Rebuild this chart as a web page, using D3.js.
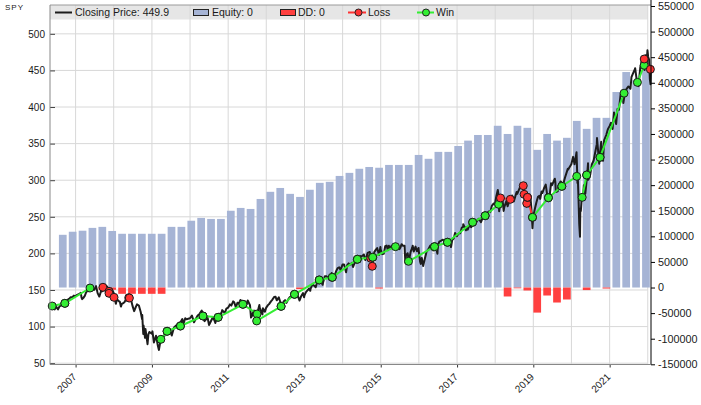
<!DOCTYPE html>
<html><head><meta charset="utf-8">
<script src="https://cdn.jsdelivr.net/npm/d3@7"></script>
<style>
body{margin:0;background:#fff;}
svg text{font-family:"Liberation Sans",Arial,sans-serif;fill:#1a1a1a;}
</style>
</head><body>
<svg id="chart" width="701" height="405"></svg>
<script>
// ---------- DATA ----------
const closeSeries = [
["2006-05-15",129],["2006-05-31",127.5],["2006-06-14",123.5],["2006-06-30",126.9],["2006-07-17",123.5],["2006-07-31",127.6],["2006-08-15",129.3],["2006-08-31",131],["2006-09-15",132.3],["2006-09-29",133.6],["2006-10-16",136.5],["2006-10-31",137.9],["2006-11-15",140],["2006-11-30",140.2],["2006-12-15",142.3],["2006-12-29",141.6],
["2007-01-16",143.2],["2007-01-31",144.2],["2007-02-20",146],["2007-02-27",139.5],["2007-03-05",137.5],["2007-03-15",138.9],["2007-03-30",141.9],["2007-04-16",148.3],["2007-04-30",148.3],["2007-05-15",150.6],["2007-05-31",153.3],["2007-06-12",150.3],["2007-06-29",150.4],["2007-07-16",155.3],["2007-07-31",145.7],["2007-08-16",141],["2007-08-31",147.6],["2007-09-17",148.4],["2007-09-28",152.6],["2007-10-09",156.5],["2007-10-31",154.6],["2007-11-15",145.4],["2007-11-26",141.2],["2007-11-30",148.7],["2007-12-10",151.8],["2007-12-31",146.2],
["2008-01-08",140],["2008-01-22",131.1],["2008-01-31",137.4],["2008-02-15",135.4],["2008-02-29",133.8],["2008-03-10",127.3],["2008-03-20",131.4],["2008-03-31",131.9],["2008-04-15",133.7],["2008-04-30",138.3],["2008-05-19",142.7],["2008-05-30",140.4],["2008-06-16",136],["2008-06-30",127.9],["2008-07-15",121.1],["2008-07-31",126.8],["2008-08-11",130.4],["2008-08-29",128.8],["2008-09-15",120.3],["2008-09-29",110.1],["2008-09-30",116],["2008-10-10",89.9],["2008-10-13",101.4],["2008-10-27",84.7],["2008-10-31",96.8],["2008-11-20",75.9],["2008-11-28",89.2],["2008-12-08",92.7],["2008-12-31",90.2],
["2009-01-06",93.5],["2009-01-20",78.4],["2009-01-30",82.8],["2009-02-09",87.6],["2009-02-27",73.9],["2009-03-09",68.1],["2009-03-26",82.3],["2009-03-31",79.5],["2009-04-15",86.5],["2009-04-30",87.1],["2009-05-08",93],["2009-05-29",92.5],["2009-06-12",94.6],["2009-06-30",91.9],["2009-07-10",87.9],["2009-07-31",98.8],["2009-08-14",100.6],["2009-08-31",102.5],["2009-09-15",105.2],["2009-09-30",105.6],["2009-10-19",110.3],["2009-10-30",103.6],["2009-11-16",111.3],["2009-11-30",109.9],["2009-12-15",110.8],["2009-12-31",111.4],
["2010-01-19",115.1],["2010-02-08",105.8],["2010-02-26",110.7],["2010-03-15",115],["2010-03-31",117],["2010-04-23",121.8],["2010-04-30",118.8],["2010-05-07",111.3],["2010-05-20",107.5],["2010-05-31",109.4],["2010-06-18",112.2],["2010-07-02",102.2],["2010-07-30",110.3],["2010-08-09",113],["2010-08-27",106.9],["2010-08-31",104.9],["2010-09-15",112.5],["2010-09-30",114.1],["2010-10-15",117.6],["2010-10-29",118.5],["2010-11-05",122.5],["2010-11-30",118.4],["2010-12-15",124.6],["2010-12-31",125.8],
["2011-01-18",130.3],["2011-01-31",128.7],["2011-02-18",134.4],["2011-02-28",133.2],["2011-03-16",126.2],["2011-03-31",132.5],["2011-04-15",131.8],["2011-04-29",136.4],["2011-05-16",133],["2011-05-31",134.9],["2011-06-16",126.9],["2011-06-30",131.9],["2011-07-07",135.7],["2011-07-29",129.3],["2011-08-08",112.3],["2011-08-18",114.8],["2011-08-31",121.7],["2011-09-15",121.5],["2011-09-22",112.3],["2011-09-30",113.2],["2011-10-03",109.9],["2011-10-14",122.2],["2011-10-27",129.4],["2011-10-31",125.5],["2011-11-25",116.6],["2011-11-30",124.9],["2011-12-19",120.3],["2011-12-30",125.5],
["2012-01-17",129.3],["2012-01-31",131.3],["2012-02-15",134.5],["2012-02-29",137],["2012-03-16",140.3],["2012-03-30",140.8],["2012-04-10",135.9],["2012-04-30",139.9],["2012-05-15",133.2],["2012-05-31",131.5],["2012-06-04",128.1],["2012-06-15",134.2],["2012-06-29",136.1],["2012-07-12",132.4],["2012-07-31",137.7],["2012-08-15",140.6],["2012-08-31",141.2],["2012-09-14",146.5],["2012-09-28",144],["2012-10-05",146.1],["2012-10-31",141.3],["2012-11-15",135.6],["2012-11-30",141.5],["2012-12-18",145.7],["2012-12-28",140],["2012-12-31",142.4],
["2013-01-15",147],["2013-01-31",149.7],["2013-02-15",152.1],["2013-02-25",148.9],["2013-02-28",151.6],["2013-03-15",156.7],["2013-03-28",156.7],["2013-04-18",153.8],["2013-04-30",159.7],["2013-05-21",167.2],["2013-05-31",163.5],["2013-06-24",157.1],["2013-06-28",160.4],["2013-07-15",168.9],["2013-07-31",168.7],["2013-08-15",166.4],["2013-08-30",163.7],["2013-09-18",173.1],["2013-09-30",168],["2013-10-08",165.5],["2013-10-31",175.8],["2013-11-15",180],["2013-11-29",181],["2013-12-13",177.3],["2013-12-31",184.7],
["2014-01-15",184.7],["2014-02-03",174.2],["2014-02-14",184],["2014-02-28",186.3],["2014-03-14",184.7],["2014-03-31",187],["2014-04-11",181.5],["2014-04-30",188.3],["2014-05-15",187.5],["2014-05-30",192.7],["2014-06-20",196.4],["2014-06-30",195.7],["2014-07-24",198.4],["2014-07-31",193.1],["2014-08-07",190.9],["2014-08-29",200.7],["2014-09-18",201.9],["2014-09-30",197],["2014-10-15",186.4],["2014-10-31",201.7],["2014-11-14",204.8],["2014-11-28",207.2],["2014-12-16",197.9],["2014-12-29",208.7],["2014-12-31",205.5],
["2015-01-15",199],["2015-01-30",199.5],["2015-02-13",209.8],["2015-02-27",210.7],["2015-03-10",204.4],["2015-03-20",210.4],["2015-03-31",206.4],["2015-04-15",210.4],["2015-04-30",208.5],["2015-05-21",213.1],["2015-05-29",211.1],["2015-06-15",208],["2015-06-30",205.9],["2015-07-07",207.6],["2015-07-20",212.6],["2015-07-31",210.5],["2015-08-17",210.6],["2015-08-25",187.3],["2015-08-31",197.7],["2015-09-16",200.2],["2015-09-29",186.9],["2015-09-30",191.6],["2015-10-15",202.4],["2015-10-30",207.9],["2015-11-03",210.4],["2015-11-13",202.5],["2015-11-30",209.3],["2015-12-14",203],["2015-12-29",207.4],["2015-12-31",203.9],
["2016-01-13",188.8],["2016-01-20",185.7],["2016-01-29",193.7],["2016-02-11",182.9],["2016-02-29",193.6],["2016-03-15",202.5],["2016-03-31",205.5],["2016-04-20",210.7],["2016-04-29",206.3],["2016-05-19",204],["2016-05-31",209.8],["2016-06-08",212.4],["2016-06-27",199.6],["2016-06-30",209.5],["2016-07-15",216.2],["2016-07-29",217.1],["2016-08-15",218.7],["2016-08-31",217.4],["2016-09-09",213.3],["2016-09-22",217.2],["2016-09-30",216.3],["2016-10-14",213.1],["2016-10-31",212.6],["2016-11-04",208.6],["2016-11-15",218.3],["2016-11-30",220.4],["2016-12-13",227.8],["2016-12-30",223.5],
["2017-01-13",227],["2017-01-31",227.5],["2017-02-15",234.9],["2017-02-28",236.5],["2017-03-01",239.8],["2017-03-27",231.6],["2017-03-31",235.7],["2017-04-13",232.5],["2017-04-28",238.1],["2017-05-17",235.8],["2017-05-31",241.4],["2017-06-19",244.7],["2017-06-30",241.8],["2017-07-26",247.4],["2017-07-31",246.8],["2017-08-18",242.7],["2017-08-31",247.5],["2017-09-15",250],["2017-09-29",251.2],["2017-10-16",255.3],["2017-10-31",257.2],["2017-11-15",256.4],["2017-11-30",265],["2017-12-18",268.2],["2017-12-29",266.9],
["2018-01-12",278.1],["2018-01-26",286.6],["2018-01-31",281.9],["2018-02-08",257.6],["2018-02-26",277.9],["2018-02-28",271.7],["2018-03-09",278.9],["2018-03-23",258],["2018-03-29",263.2],["2018-04-18",271.4],["2018-04-30",264.5],["2018-05-15",271.1],["2018-05-31",270.9],["2018-06-12",279],["2018-06-29",271.3],["2018-07-25",284],["2018-07-31",281.3],["2018-08-29",291.3],["2018-08-31",290.3],["2018-09-20",293.6],["2018-09-28",290.7],["2018-10-11",272.2],["2018-10-29",263.9],["2018-10-31",270.6],["2018-11-07",281],["2018-11-20",264.1],["2018-11-30",276],["2018-12-03",279.3],["2018-12-14",260.5],["2018-12-24",234.3],["2018-12-31",249.9],
["2019-01-15",260.4],["2019-01-31",269.9],["2019-02-15",277.4],["2019-02-28",278.7],["2019-03-08",274.5],["2019-03-21",284.7],["2019-03-29",282.5],["2019-04-15",289.5],["2019-04-30",294],["2019-05-13",280.9],["2019-05-31",275.3],["2019-06-03",274.6],["2019-06-20",295.9],["2019-06-28",293],["2019-07-26",302],["2019-07-31",297.4],["2019-08-05",283.8],["2019-08-23",284.7],["2019-08-30",292.5],["2019-09-19",298.3],["2019-09-30",296.8],["2019-10-02",288],["2019-10-31",303.3],["2019-11-27",315.5],["2019-11-29",314.3],["2019-12-31",321.9],
["2020-01-17",331.9],["2020-01-31",321.7],["2020-02-19",338.3],["2020-02-28",296.3],["2020-03-03",300.2],["2020-03-09",274.2],["2020-03-16",239.9],["2020-03-23",222.9],["2020-03-26",261.2],["2020-03-31",257.8],["2020-04-08",274],["2020-04-21",273],["2020-04-29",293.2],["2020-04-30",290.5],["2020-05-13",281.6],["2020-05-29",304.3],["2020-06-08",323.2],["2020-06-11",300.6],["2020-06-30",308.4],["2020-07-15",321.9],["2020-07-31",326.5],["2020-08-14",336.8],["2020-08-31",349.3],["2020-09-02",357.7],["2020-09-23",322.6],["2020-09-30",334.9],["2020-10-12",352.4],["2020-10-30",326.5],["2020-11-09",354.6],["2020-11-30",362.1],["2020-12-15",369.6],["2020-12-31",373.9],
["2021-01-14",378.5],["2021-01-29",370.1],["2021-02-12",392.6],["2021-02-26",380.4],["2021-03-04",376.7],["2021-03-17",397.3],["2021-03-31",396.3],["2021-04-16",417.3],["2021-04-30",417.3],["2021-05-07",422.1],["2021-05-12",405.4],["2021-05-28",420],["2021-06-14",425.3],["2021-06-30",428.1],["2021-07-19",425],["2021-07-29",440.7],["2021-08-16",447],["2021-08-31",451.6],["2021-09-02",453.1],["2021-09-20",434],["2021-09-30",429.1],["2021-10-04",428.6],["2021-10-21",453.6],["2021-10-29",459.3],["2021-11-18",469.7],["2021-11-30",455.6],["2021-12-01",450.5],["2021-12-10",470.7],["2021-12-20",455],["2021-12-29",477.5],["2021-12-31",475],
["2022-01-05",468.4],["2022-01-14",464.7],["2022-01-21",438],["2022-01-27",431.2],["2022-01-31",449.9]
];

const equityValues = [103000,109000,111000,116500,118500,110500,105000,105000,105000,105000,105000,118500,118500,130500,136000,134000,134000,150000,155500,153500,173000,187000,194500,183000,177000,191000,204500,206500,218000,224000,232000,235500,234000,239500,239500,239500,259000,251500,265000,265000,276500,287000,298000,298000,316000,300000,316000,312000,269000,300000,287000,292500,325500,310000,331500,331500,382000,421000,405000,439000];
const ddValues = [0,0,0,0,-4000,-4500,-12300,-12300,-12300,-12300,-12300,0,0,0,0,0,0,0,0,0,0,0,0,0,-3000,0,0,0,0,0,0,0,-2000,0,0,0,0,0,0,0,0,0,0,0,0,-17500,-1500,-5800,-49000,-15600,-29300,-23400,0,-5000,0,-2000,0,0,0,0];
const equityPeriod = ["2006-07-15","2022-01-31"];

// [entry date, entry price, exit date, exit price, result]
const trades = [
["2006-05-22",128.1,"2006-09-20",131.8,"win"],
["2006-09-20",131.8,"2007-05-19",152.7,"win"],
["2007-09-20",153.7,"2007-11-17",148.2,"loss"],
["2007-11-17",145.5,"2008-01-04",140,"loss"],
["2008-05-24",139.5,"2008-05-30",139,"loss"],
["2009-03-28",82.6,"2009-05-26",93.6,"win"],
["2009-05-26",93.6,"2009-10-01",100.8,"win"],
["2009-10-01",100.8,"2010-05-05",114.5,"win"],
["2010-05-05",114.5,"2010-09-27",112.7,"win"],
["2010-09-27",112.7,"2011-05-22",130.5,"win"],
["2011-05-22",130.5,"2011-10-05",117.2,"win"],
["2011-10-01",107.7,"2012-05-22",127.7,"win"],
["2012-05-22",127.7,"2012-09-27",144.1,"win"],
["2012-09-27",144.1,"2013-05-22",163.7,"win"],
["2013-05-22",163.7,"2013-09-24",167.3,"win"],
["2013-09-24",167.3,"2014-05-22",192,"win"],
["2014-09-27",193.3,"2014-10-12",182.4,"loss"],
["2014-05-22",192,"2014-10-16",194.7,"win"],
["2014-10-16",194.7,"2015-05-22",209.2,"win"],
["2015-09-24",189.2,"2016-05-30",209.2,"win"],
["2016-05-30",209.2,"2016-10-01",215.2,"win"],
["2016-10-01",215.2,"2017-05-30",242.5,"win"],
["2017-05-30",242.5,"2017-09-27",251.5,"win"],
["2017-09-27",251.5,"2018-02-03",267.1,"win"],
["2018-02-21",275.7,"2018-05-26",273.9,"loss"],
["2018-09-27",292.5,"2018-10-05",280.7,"loss"],
["2018-10-30",268.4,"2018-11-06",276.6,"loss"],
["2018-11-06",276.6,"2018-12-24",249.3,"loss"],
["2018-12-24",249.3,"2019-05-26",276.1,"win"],
["2019-05-26",276.1,"2019-10-01",291.7,"win"],
["2019-10-01",291.7,"2020-02-21",305.3,"win"],
["2020-04-13",276.6,"2020-05-26",307.1,"win"],
["2020-05-26",307.1,"2020-10-01",331.3,"win"],
["2020-10-01",331.3,"2021-05-19",418.9,"win"],
["2021-09-24",433.7,"2021-11-28",457,"win"],
["2021-11-28",465.6,"2022-01-26",451.5,"loss"]
];

const leftTicks = [50,100,150,200,250,300,350,400,450,500];
const rightTicks = [-150000,-100000,-50000,0,50000,100000,150000,200000,250000,300000,350000,400000,450000,500000,550000];
const yearLabels = [2007,2009,2011,2013,2015,2017,2019,2021];
const gridYears = [2007,2008,2009,2010,2011,2012,2013,2014,2015,2016,2017,2018,2019,2020,2021,2022];
const xDomain = ["2006-05-01","2022-02-01"];
const legendLabels = ["Closing Price: 449.9","Equity: 0","DD: 0","Loss","Win"];
const symbolName = "SPY";

// ---------- STYLE ----------
const C = {equity:"#a6b4d5", dd:"#ff4040", win:"#33ee33", winLine:"#33ee33", loss:"#ff3333", price:"#1c1c1c", grid:"#d8d8d8", band:"#e6e6e6"};
const P = {l:50, r:651, t:5, b:364.5};

const parse = d3.timeParse("%Y-%m-%d");
const svg = d3.select("#chart");

const x = d3.scaleTime().domain(xDomain.map(parse)).range([P.l, P.r]);
const yP = d3.scaleLinear().domain([48.2, 539.4]).range([P.b, P.t]);
const yE = d3.scaleLinear().domain([-150000, 550000]).range([364.3, 6]);
const band = d3.scaleBand().domain(d3.range(equityValues.length))
  .range(equityPeriod.map(d => x(parse(d)))).paddingInner(0.22).paddingOuter(0.11);

// legend band
const x2022 = x(new Date(2022,0,1));
svg.append("rect").attr("x",P.l).attr("y",P.t).attr("width",x2022-P.l).attr("height",14.5).attr("fill",C.band);

// grid
svg.append("g").selectAll("line").data(leftTicks).join("line")
  .attr("x1",P.l).attr("x2",x2022).attr("y1",d=>yP(d)).attr("y2",d=>yP(d))
  .attr("stroke",C.grid).attr("stroke-width",1);
svg.append("g").selectAll("line").data(gridYears).join("line")
  .attr("x1",d=>x(new Date(d,0,1))).attr("x2",d=>x(new Date(d,0,1)))
  .attr("y1",P.t).attr("y2",P.b).attr("stroke",C.grid).attr("stroke-width",1);

// top frame line
svg.append("line").attr("x1",P.l).attr("x2",P.r).attr("y1",P.t).attr("y2",P.t).attr("stroke","#9a9a9a");

// equity bars
svg.append("g").selectAll("rect").data(equityValues).join("rect")
  .attr("x",(d,i)=>band(i)).attr("width",band.bandwidth())
  .attr("y",d=>yE(d)).attr("height",d=>yE(0)-yE(d)).attr("fill",C.equity);
// DD bars
svg.append("g").selectAll("rect").data(ddValues.map((v,i)=>[i,v]).filter(d=>d[1]<0)).join("rect")
  .attr("x",d=>band(d[0])).attr("width",band.bandwidth())
  .attr("y",yE(0)).attr("height",d=>yE(d[1])-yE(0)).attr("fill",C.dd);

// price line
const line = d3.line().x(d=>x(parse(d[0]))).y(d=>yP(d[1])).curve(d3.curveLinear);
svg.append("path").datum(closeSeries).attr("d",line).attr("fill","none")
  .attr("stroke",C.price).attr("stroke-width",2).attr("stroke-linejoin","round");

// trades
const tg = svg.append("g");
tg.selectAll("line").data(trades).join("line")
  .attr("x1",d=>x(parse(d[0]))).attr("y1",d=>yP(d[1]))
  .attr("x2",d=>x(parse(d[2]))).attr("y2",d=>yP(d[3]))
  .attr("stroke",d=>d[4]==="win"?C.winLine:C.loss).attr("stroke-width",2);
const pts = [];
trades.forEach(t=>{pts.push([t[0],t[1],t[4]]);pts.push([t[2],t[3],t[4]]);});
tg.selectAll("circle").data(pts).join("circle")
  .attr("cx",d=>x(parse(d[0]))).attr("cy",d=>yP(d[1])).attr("r",4)
  .attr("fill",d=>d[2]==="win"?C.win:C.loss).attr("stroke","#1a1a1a").attr("stroke-width",1);

// axes
const axL = svg.append("g").attr("transform",`translate(${P.l},0)`)
  .call(d3.axisLeft(yP).tickValues(leftTicks).tickSize(-5).tickPadding(5).tickFormat(d=>String(d)));
axL.select(".domain").remove();
axL.selectAll("line").attr("stroke","#444");
axL.selectAll("text").style("font-size","10px");
svg.append("line").attr("x1",P.l).attr("x2",P.l).attr("y1",P.t).attr("y2",P.b).attr("stroke","#888");

const axR = svg.append("g").attr("transform",`translate(${P.r},0)`)
  .call(d3.axisRight(yE).tickValues(rightTicks).tickSize(4).tickPadding(3).tickFormat(d=>String(d)));
axR.select(".domain").remove();
axR.selectAll("line").attr("stroke","#000");
axR.selectAll("text").style("font-size","10.8px");
svg.append("line").attr("x1",P.r).attr("x2",P.r).attr("y1",0).attr("y2",P.b).attr("stroke","#000");

const axB = svg.append("g").attr("transform",`translate(0,${P.b})`)
  .call(d3.axisBottom(x).tickValues(yearLabels.map(y=>new Date(y,0,1))).tickSize(3).tickPadding(2).tickFormat(d3.timeFormat("%Y")));
axB.select(".domain").remove();
axB.selectAll("line").attr("stroke","#333");
axB.selectAll("text").style("font-size","10px").attr("text-anchor","end")
  .attr("x",0).attr("y",0).attr("dy",0).attr("transform","translate(1,13) rotate(-45)");
svg.append("line").attr("x1",P.l).attr("x2",P.r).attr("y1",P.b).attr("y2",P.b).attr("stroke","#888");

// legend
const lg = svg.append("g").style("font-size","10.5px");
lg.append("line").attr("x1",55).attr("x2",72).attr("y1",12.5).attr("y2",12.5).attr("stroke",C.price).attr("stroke-width",2);
lg.append("text").attr("x",75).attr("y",16.3).text(legendLabels[0]);
lg.append("rect").attr("x",193.5).attr("y",9.5).attr("width",15).attr("height",6).attr("fill",C.equity).attr("stroke","#222");
lg.append("text").attr("x",212).attr("y",16.3).text(legendLabels[1]);
lg.append("rect").attr("x",280.5).attr("y",9.5).attr("width",15).attr("height",6).attr("fill",C.dd).attr("stroke","#222");
lg.append("text").attr("x",298).attr("y",16.3).text(legendLabels[2]);
lg.append("line").attr("x1",348).attr("x2",366).attr("y1",12.5).attr("y2",12.5).attr("stroke",C.loss).attr("stroke-width",2);
lg.append("circle").attr("cx",358.5).attr("cy",12.5).attr("r",3.5).attr("fill",C.loss).attr("stroke","#222");
lg.append("text").attr("x",368).attr("y",16.3).text(legendLabels[3]);
lg.append("line").attr("x1",417).attr("x2",434).attr("y1",12.5).attr("y2",12.5).attr("stroke",C.winLine).attr("stroke-width",2);
lg.append("circle").attr("cx",426).attr("cy",12.5).attr("r",3.5).attr("fill",C.win).attr("stroke","#222");
lg.append("text").attr("x",436).attr("y",16.3).text(legendLabels[4]);

svg.append("text").attr("x",5).attr("y",10).style("font-size","8px").style("letter-spacing","1px").text(symbolName);
</script>
</body></html>
